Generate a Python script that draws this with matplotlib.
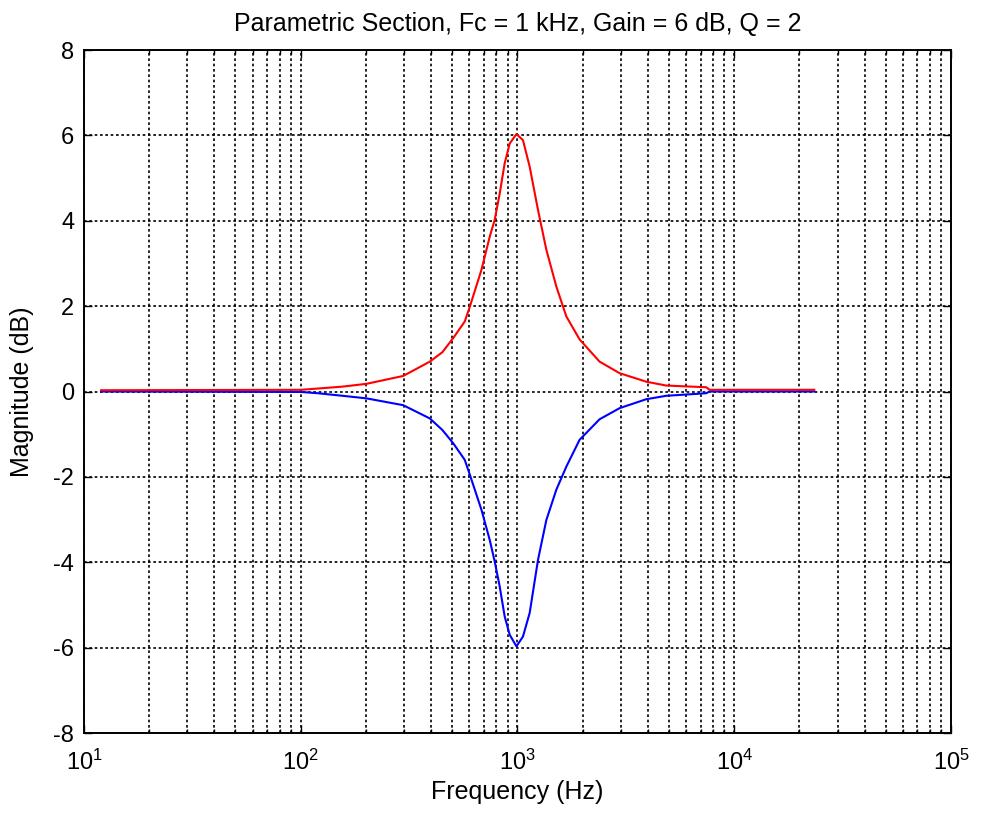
import numpy as np
import matplotlib.pyplot as plt
from matplotlib.ticker import LogLocator, FixedLocator

plt.rcParams['font.family'] = ['Liberation Sans', 'DejaVu Sans']
plt.rcParams['axes.unicode_minus'] = False

# Boost curve (Hz, dB)
boost_f = [12, 100, 120, 156, 201, 297, 394, 450, 505, 571, 603, 682, 745, 785, 828, 873, 921, 989,
           1060, 1138, 1244, 1359, 1511, 1680, 1935, 2392, 2958, 3929, 4857, 7430, 7690, 23400]
boost_db = [0.03, 0.04, 0.07, 0.115, 0.18, 0.365, 0.70, 0.92, 1.25, 1.64, 1.99, 2.85, 3.63, 4.02, 4.64, 5.35, 5.81, 6.03,
            5.89, 5.27, 4.25, 3.32, 2.46, 1.76, 1.22, 0.70, 0.43, 0.23, 0.14, 0.10, 0.04, 0.04]

# Cut curve (Hz, dB)
cut_f = [12, 100, 120, 156, 201, 297, 394, 450, 505, 571, 603, 682, 745, 785, 828, 873, 921, 989,
         1060, 1138, 1244, 1359, 1511, 1680, 1935, 2392, 2958, 3929, 4857, 7430, 7690, 23400]
cut_db = [0.0, -0.01, -0.04, -0.10, -0.16, -0.32, -0.63, -0.90, -1.21, -1.60, -1.95, -2.77, -3.48, -3.98, -4.57, -5.27, -5.70, -5.97,
          -5.74, -5.19, -3.94, -3.01, -2.30, -1.76, -1.13, -0.65, -0.39, -0.18, -0.10, -0.04, 0.0, 0.0]

fig = plt.figure(figsize=(9.81, 8.24), dpi=100)
ax = fig.add_axes([0.0856, 0.1104, 0.8838, 0.8289])

ax.semilogx(cut_f, cut_db, color='blue', linewidth=1.5)
ax.semilogx(boost_f, boost_db, color='red', linewidth=1.5)

ax.set_xlim(10, 1e5)
ax.set_ylim(-8, 8)
ax.yaxis.set_major_locator(FixedLocator(np.arange(-8, 9, 2)))
ax.xaxis.set_major_locator(LogLocator(base=10, numticks=10))
ax.xaxis.set_minor_locator(LogLocator(base=10, subs=np.arange(2, 10), numticks=20))

grid_style = dict(color='black', linestyle=(0, (1.6, 1.6)), linewidth=1.2)
ax.grid(True, which='major', axis='both', **grid_style)
ax.grid(True, which='minor', axis='x', **grid_style)

ax.tick_params(which='both', direction='in', top=True, right=True, labelsize=17)
ax.tick_params(which='major', length=6, width=1)
ax.tick_params(which='minor', length=3, width=1)
ax.tick_params(axis='x', pad=12)
ax.tick_params(axis='y', pad=7)
for s in ax.spines.values():
    s.set_linewidth(1.4)

ax.set_title('Parametric Section, Fc = 1 kHz, Gain = 6 dB, Q = 2', fontsize=18, pad=14)
ax.set_xlabel('Frequency (Hz)', fontsize=18, labelpad=4)
ax.set_ylabel('Magnitude (dB)', fontsize=18, labelpad=14)

fig.savefig('out.png', dpi=100)
